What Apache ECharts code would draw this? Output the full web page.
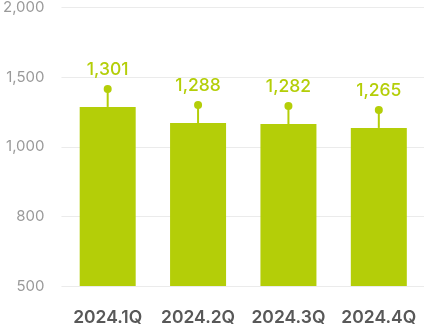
<!DOCTYPE html>
<html><head><meta charset="utf-8">
<script src="https://cdn.jsdelivr.net/npm/echarts@6/dist/echarts.min.js"></script>
<style>html,body{margin:0;padding:0;background:#fff}#c{width:424px;height:327px}</style>
</head><body><div id="c"></div>
<script>
const categories = ['2024.1Q', '2024.2Q', '2024.3Q', '2024.4Q'];
const labelValues = [1301, 1288, 1282, 1265];
// bar tops and marker dots as read on the (non-linear) displayed axis
const barValues = [1279, 1164, 1157, 1129];
const dotValues = [1407, 1293, 1286, 1257];
const yTicks = [500, 800, 1000, 1500, 2000];

function toAxis(v) {
  for (let i = 0; i < yTicks.length - 1; i++) {
    if (v <= yTicks[i + 1]) return i + (v - yTicks[i]) / (yTicks[i + 1] - yTicks[i]);
  }
  return yTicks.length - 1;
}
const green = '#b4ce08';
const font = 'Inter, Roboto, "Noto Sans", sans-serif';
const chart = echarts.init(document.getElementById('c'));
chart.setOption({
  animation: false,
  grid: [
    { left: 62.5, width: 364, top: 6, height: 280 },
    { left: 58, right: 0, top: 6, height: 280 }
  ],
  xAxis: [
    { type: 'category', gridIndex: 0, data: categories,
      axisLine: { show: false }, axisTick: { show: false },
      axisLabel: { interval: 0, hideOverlap: false, margin: 23, color: '#585858', fontSize: 17.5, fontWeight: 600, fontFamily: font } },
    { type: 'value', gridIndex: 1, show: false }
  ],
  yAxis: [
    { type: 'value', gridIndex: 0, min: 0, max: 4, show: false },
    { type: 'value', gridIndex: 1, min: 0, max: 4, interval: 1,
      axisLine: { show: false }, axisTick: { show: false },
      splitLine: { lineStyle: { color: '#ebebeb', width: 1 } },
      axisLabel: { margin: 17, color: '#9a9a9a', fontSize: 15, fontFamily: font,
        formatter: v => yTicks[Math.round(v)].toLocaleString('en-US') } }
  ],
  series: [
    { type: 'bar', xAxisIndex: 0, yAxisIndex: 0, barWidth: 56,
      itemStyle: { color: green }, data: barValues.map(toAxis), z: 2 },
    { type: 'custom', xAxisIndex: 0, yAxisIndex: 0, z: 3,
      data: categories.map((c, i) => [i, toAxis(barValues[i]), toAxis(dotValues[i]), labelValues[i]]),
      renderItem: (params, api) => {
        const top = api.coord([api.value(0), api.value(1)]);
        const dot = api.coord([api.value(0), api.value(2)]);
        return { type: 'group', children: [
          { type: 'line', shape: { x1: top[0], y1: top[1], x2: dot[0], y2: dot[1] },
            style: { stroke: green, lineWidth: 2 } },
          { type: 'circle', shape: { cx: dot[0], cy: dot[1], r: 4 }, style: { fill: green } },
          { type: 'text', style: { text: Number(api.value(3)).toLocaleString('en-US'),
            x: dot[0], y: dot[1] - 19, align: 'center', verticalAlign: 'middle',
            fill: green, font: '500 17.5px ' + font } }
        ] };
      } }
  ]
});
</script></body></html>
